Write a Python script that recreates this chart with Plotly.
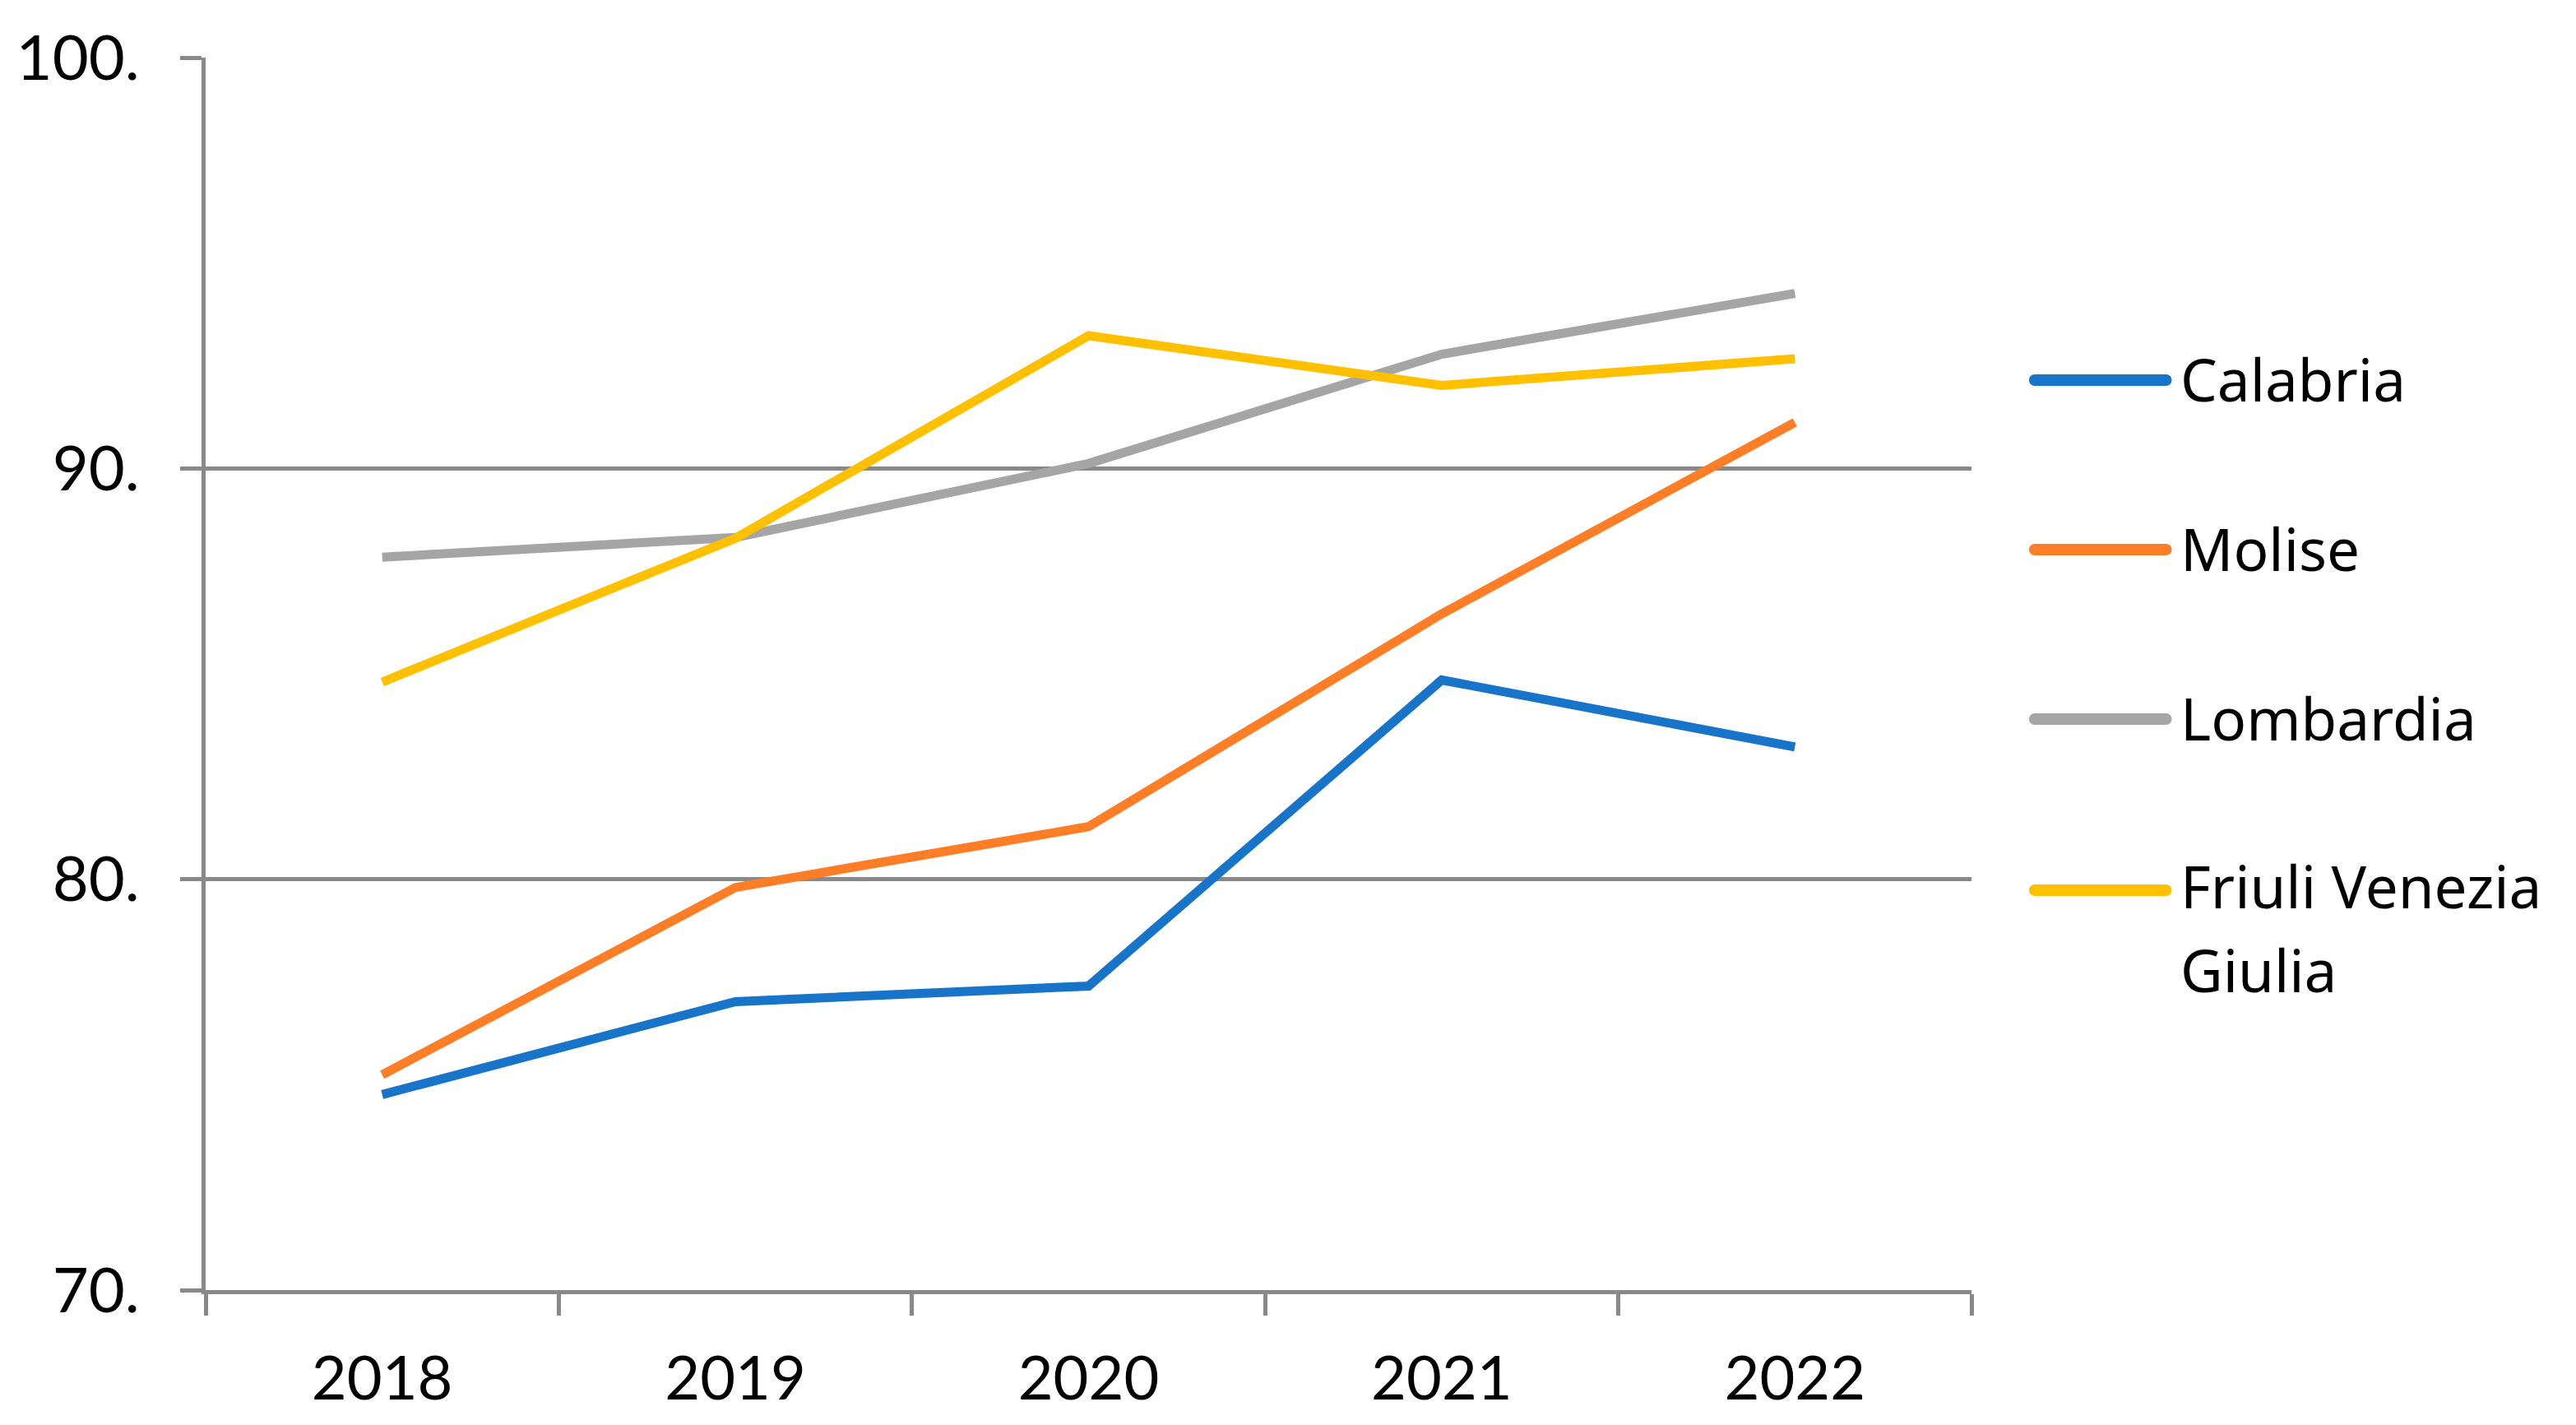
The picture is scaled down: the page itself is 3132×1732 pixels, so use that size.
import plotly.graph_objects as go

years = ["2018", "2019", "2020", "2021", "2022"]
series_names = ["Calabria", "Molise", "Lombardia", "Friuli Venezia Giulia"]
calabria = [74.76, 77.02, 77.40, 84.85, 83.22]
molise = [75.24, 79.80, 81.28, 86.46, 91.12]
lombardia = [87.84, 88.32, 90.12, 92.78, 94.26]
friuli = [84.80, 88.30, 93.23, 92.02, 92.67]
colors = ["#1874C8", "#FE7E28", "#A5A5A5", "#FFC000"]
ytick_vals = [70, 80, 90, 100]
ytick_text = ["70.", "80.", "90.", "100."]

W, H = 3132, 1732
OFF = 8  # page body offset
ml, mr, mt, mb = 238, 743, 62, 172
pw = W - ml - mr
ph = H - mt - mb


def px_x(px):
    return (px - OFF - ml) / pw


def px_y(py):
    return (OFF + mt + ph - py) / ph


fig = go.Figure()
for name, vals, col in zip(series_names, [calabria, molise, lombardia, friuli], colors):
    fig.add_trace(go.Scatter(x=years, y=vals, mode="lines", name=name,
                             line=dict(color=col, width=11), showlegend=False))

# manual legend with long line samples (as in the reference)
legend_line_y = [462, 668, 874, 1082]
lx0, lx1, tx = 2474, 2634, 2649
shapes = []
annotations = []
for name, col, yy in zip(series_names, colors, legend_line_y):
    yp = px_y(yy)
    shapes.append(dict(type="line", xref="paper", yref="paper",
                       x0=px_x(lx0), x1=px_x(lx1), y0=yp, y1=yp,
                       line=dict(color=col, width=14)))
    for cx in (lx0, lx1):
        shapes.append(dict(type="circle", xref="paper", yref="paper",
                           xsizemode="pixel", ysizemode="pixel",
                           xanchor=px_x(cx), yanchor=yp,
                           x0=-7, x1=7, y0=-7, y1=7,
                           fillcolor=col, line=dict(width=0)))
    if name == "Friuli Venezia Giulia":
        parts = [("Friuli Venezia", yy - 6), ("Giulia", yy + 96)]
    else:
        parts = [(name, yy - 2)]
    for txt, ty in parts:
        annotations.append(dict(xref="paper", yref="paper",
                                x=px_x(tx), y=px_y(ty),
                                xanchor="left", yanchor="middle",
                                text=txt, showarrow=False, align="left",
                                font=dict(family="Noto Sans", size=71, color="#000000")))

fig.update_layout(
    width=W, height=H,
    margin=dict(l=ml, r=mr, t=mt, b=mb),
    paper_bgcolor="white", plot_bgcolor="white",
    shapes=shapes, annotations=annotations,
    xaxis=dict(type="category", tickson="boundaries", ticks="outside", ticklen=26,
               tickwidth=5, tickcolor="#898989", showline=True, linecolor="#898989",
               linewidth=5, showgrid=False, range=[-0.5, 4.5],
               tickfont=dict(family="Lato", size=74, color="#000000"),
               ticklabelstandoff=39),
    yaxis=dict(range=[70, 100], tickvals=ytick_vals, ticktext=ytick_text,
               ticks="outside", ticklen=26, tickwidth=5, tickcolor="#898989",
               showline=True, linecolor="#898989", linewidth=5,
               showgrid=True, gridcolor="#898989", gridwidth=5, zeroline=False,
               tickfont=dict(family="Lato", size=76, color="#000000"),
               ticklabelstandoff=34),
)
fig.write_html("out.html")
